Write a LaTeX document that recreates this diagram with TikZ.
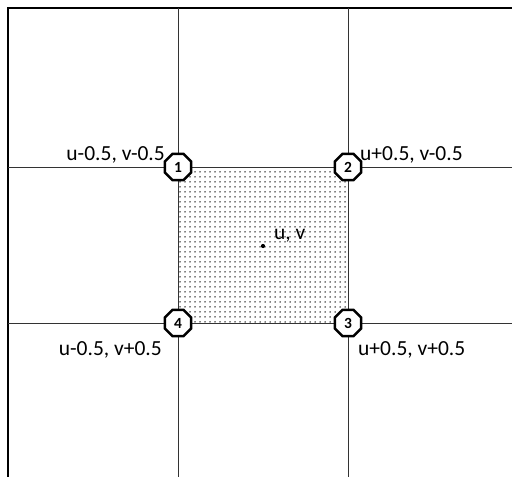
\documentclass[tikz,border=0pt]{standalone}
\usepackage{fontspec}
\setmainfont{Carlito}
\usetikzlibrary{shapes.geometric,patterns.meta}
\tikzset{
  gridline/.style={line width=1pt, black!80},
  corner/.style={regular polygon, regular polygon sides=8, minimum size=28.5pt, inner sep=0pt,
    draw=black, line width=2.5pt, fill=white, font=\fontsize{15.5}{15.5}\selectfont\bfseries},
  lbl/.style={font=\fontsize{21.5}{22}\selectfont, inner sep=0pt},
}
\begin{document}
\begin{tikzpicture}[x=1pt,y=-1pt]
\useasboundingbox (0,0) rectangle (512,477);
% shaded cell
\fill[pattern={Dots[distance=5pt, radius=0.75pt]}, pattern color=black] (178,167) rectangle (348,323);
% outer border (top and left)
\draw[line width=1.8pt] (8,477) -- (8,8) -- (512,8);
% grid lines
\coordinate (v1t) at (178,8);  \coordinate (v1b) at (178,477);
\coordinate (v2t) at (348,8);  \coordinate (v2b) at (348,477);
\coordinate (h1l) at (8,167);  \coordinate (h1r) at (512,167);
\coordinate (h2l) at (8,323);  \coordinate (h2r) at (512,323);
\draw[gridline] (v1t) -- (v1b);
\draw[gridline] (v2t) -- (v2b);
\draw[gridline] (h1l) -- (h1r);
\draw[gridline] (h2l) -- (h2r);
% corners
\node[corner] (c1) at (178,167) {1};
\node[corner] (c2) at (348,167) {2};
\node[corner] (c3) at (348,323) {3};
\node[corner] (c4) at (178,323) {4};
% centre
\fill (263,246) circle (2.1pt) coordinate (ctr);
\node[lbl, anchor=west] (uv) at (274,236) {u, v};
% labels
\node[lbl, anchor=east] (l1) at (165,155) {u-0.5, v-0.5};
\node[lbl, anchor=west] (l2) at (360,155) {u+0.5, v-0.5};
\node[lbl, anchor=east] (l4) at (162,350) {u-0.5, v+0.5};
\node[lbl, anchor=west] (l3) at (358,350) {u+0.5, v+0.5};
\end{tikzpicture}
\end{document}
